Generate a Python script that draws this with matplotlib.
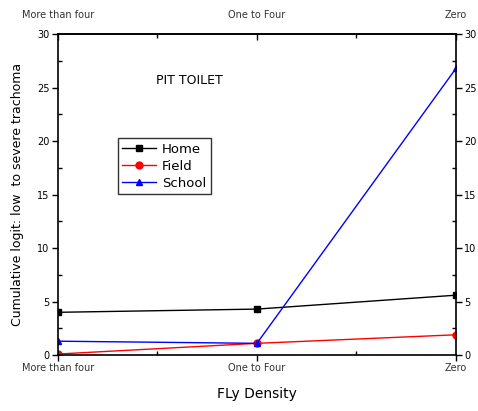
import matplotlib
matplotlib.use("Agg")
import matplotlib.pyplot as plt
from matplotlib.ticker import MultipleLocator

categories = ["More than four", "One to Four", "Zero"]
home = [4.0, 4.3, 5.6]
field = [0.1, 1.1, 1.9]
school = [1.3, 1.1, 26.8]

plt.rcParams["font.family"] = ["DejaVu Sans"]

fig = plt.figure(figsize=(4.78, 4.11), dpi=100)
ax = fig.add_axes([0.121, 0.136, 0.833, 0.781])

x = list(range(len(categories)))
ax.plot(x, home, color="black", marker="s", markersize=5, lw=1, label="Home")
ax.plot(x, field, color="red", marker="o", markersize=5, lw=1, label="Field")
ax.plot(x, school, color="blue", marker="^", markersize=5, lw=1, label="School")

ax.set_xlim(0, 2)
ax.set_ylim(0, 30)
ax.set_xticks(x)
ax.set_xticklabels(categories)
ax.xaxis.set_minor_locator(MultipleLocator(0.5))
ax.yaxis.set_major_locator(MultipleLocator(5))
ax.yaxis.set_minor_locator(MultipleLocator(2.5))

ax.tick_params(axis="both", which="major", direction="out", length=4, width=1,
               labelsize=7, colors="black", pad=2, right=True, labelright=True)
ax.tick_params(axis="both", which="minor", direction="in", length=3, width=1,
               right=True)
for tl in ax.get_xticklabels():
    tl.set_color("#333333")
for s in ax.spines.values():
    s.set_linewidth(1.2)

# top axis: same categories, ticks pointing in
top = ax.secondary_xaxis("top")
top.set_xticks(x)
top.set_xticklabels(categories)
top.xaxis.set_minor_locator(MultipleLocator(0.5))
top.tick_params(which="major", direction="in", length=4, width=1, labelsize=7,
                labelcolor="#333333", pad=10)
top.tick_params(which="minor", direction="in", length=3, width=1)
top.spines["top"].set_linewidth(1.2)

ax.set_xlabel("FLy Density", fontsize=10, labelpad=10)
ax.set_ylabel("Cumulative logit: low  to severe trachoma", fontsize=9)
ax.yaxis.set_label_coords(-0.085, 0.5)

ax.text(0.66, 25.7, "PIT TOILET", fontsize=9, ha="center", va="center")

leg = ax.legend(loc="upper left", bbox_to_anchor=(0.15, 0.676), fontsize=9.5,
                frameon=True, fancybox=False, edgecolor="black",
                handlelength=2.6, borderpad=0.35, labelspacing=0.3,
                handletextpad=0.4, borderaxespad=0)
leg.get_frame().set_linewidth(1)

fig.savefig("out.png", dpi=100)
